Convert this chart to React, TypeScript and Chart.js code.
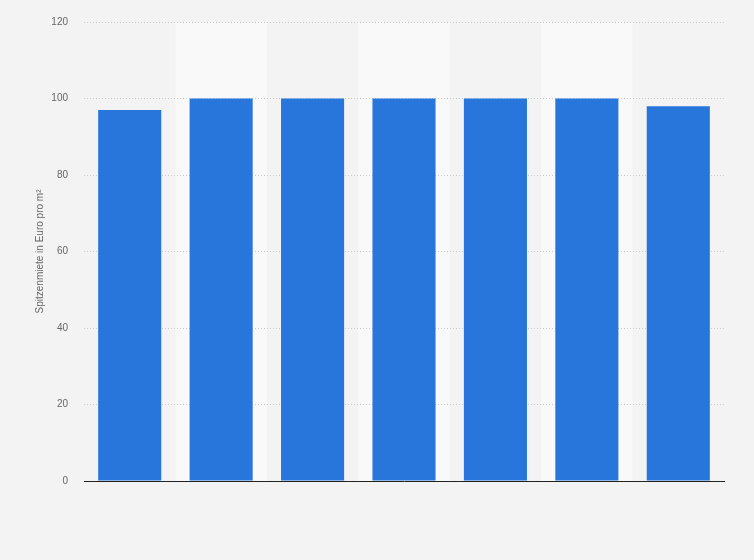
import React, { useEffect, useRef } from "react";
import { Chart, registerables } from "chart.js";

Chart.register(...registerables);

const categories = ["", "", "", "", "", "", ""];
const rentValues = [97, 100, 100, 100, 100, 100, 98];
const yTicks = [0, 20, 40, 60, 80, 100, 120];

// lighter bands behind every second category, under the grid lines
const stripePlugin = {
  id: "stripes",
  beforeDraw(chart: any) {
    const { ctx, chartArea, scales } = chart;
    const x = scales.x;
    const step = (chartArea.right - chartArea.left) / categories.length;
    ctx.save();
    ctx.fillStyle = "#f9f9f9";
    categories.forEach((_, i) => {
      if (i % 2 === 1) {
        const cx = x.getPixelForValue(i);
        ctx.fillRect(cx - step / 2, chartArea.top, step, chartArea.bottom - chartArea.top);
      }
    });
    ctx.restore();
  },
};

const App: React.FC = () => {
  const chartRef = useRef<HTMLCanvasElement | null>(null);

  useEffect(() => {
    document.body.style.margin = "0";
    document.body.style.background = "#f3f3f3";
    if (!chartRef.current) return;
    const ctx = chartRef.current.getContext("2d");
    if (!ctx) return;

    const chart = new Chart(ctx, {
      type: "bar",
      data: {
        labels: categories,
        datasets: [
          {
            data: rentValues,
            backgroundColor: "#2876dc",
            borderWidth: 0,
            categoryPercentage: 1,
            barPercentage: 0.69,
          },
        ],
      },
      options: {
        responsive: false,
        animation: false,
        layout: { padding: { top: 20, right: 30, bottom: 0, left: 0 } },
        plugins: {
          legend: { display: false },
          tooltip: { enabled: false },
        },
        scales: {
          x: {
            grid: { display: false, drawTicks: false },
            border: { display: true, color: "#222", width: 1 },
            ticks: { display: false },
            afterFit(scale: any) {
              scale.height = 79;
            },
          },
          y: {
            min: 0,
            max: 120,
            afterBuildTicks(scale: any) {
              scale.ticks = yTicks.map((v) => ({ value: v }));
            },
            grid: {
              color: "#cccccc",
              drawTicks: false,
              lineWidth: 1,
            },
            border: { display: false, dash: [1, 2] },
            ticks: {
              color: "#666",
              padding: 16,
              font: { family: "Liberation Sans, Arial, sans-serif", size: 10 },
            },
            title: {
              display: true,
              text: "Spitzenmiete in Euro pro m²",
              color: "#666",
              font: { family: "Liberation Sans, Arial, sans-serif", size: 10 },
              padding: { top: 34, bottom: 0 },
            },
            afterFit(scale: any) {
              scale.width = 84;
            },
          },
        },
      },
      plugins: [stripePlugin],
    });

    return () => chart.destroy();
  }, []);

  return (
    <div style={{ width: 754, height: 560, background: "#f3f3f3" }}>
      <canvas ref={chartRef} width={754} height={560}></canvas>
    </div>
  );
};

export default App;
